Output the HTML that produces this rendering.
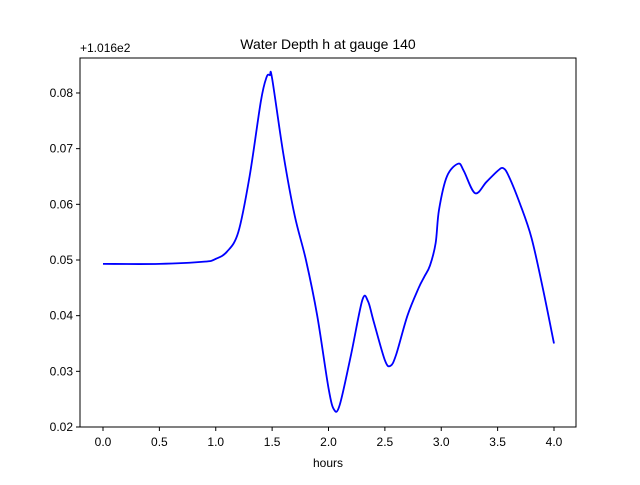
<!DOCTYPE html>
<html><head><meta charset="utf-8"><style>
body{margin:0;background:#fff;}
svg{font-family:"Liberation Sans","DejaVu Sans",sans-serif;}
</style></head><body>
<svg id="chart" width="640" height="480" viewBox="0 0 640 480">
<rect x="0" y="0" width="640" height="480" fill="#fff"/>
<text x="328" y="49" font-size="14" text-anchor="middle">Water Depth h at gauge 140</text>
<text x="80" y="52" font-size="12">+1.016e2</text>
<g id="xticks"></g>
<g id="yticks"></g>
<path id="line" fill="none" stroke="#0000ff" stroke-width="1.8"/>
<rect x="80" y="58" width="496" height="369" fill="none" stroke="#000" stroke-width="1"/>
<text x="328" y="467" font-size="12" text-anchor="middle">hours</text>
</svg>
<script>
const times=[0,0.5,0.9,1.0,1.1,1.2,1.3,1.4,1.45,1.48,1.5,1.6,1.7,1.8,1.9,2.0,2.05,2.1,2.2,2.3,2.35,2.4,2.5,2.55,2.6,2.7,2.8,2.85,2.9,2.95,2.98,3.05,3.15,3.2,3.3,3.4,3.5,3.55,3.6,3.7,3.8,3.9,4.0];
const depths=[0.0493,0.0493,0.0497,0.0502,0.0515,0.055,0.065,0.0785,0.0828,0.0832,0.0826,0.069,0.058,0.050,0.040,0.027,0.0231,0.024,0.033,0.0428,0.0426,0.039,0.032,0.031,0.033,0.040,0.045,0.047,0.049,0.053,0.059,0.065,0.0673,0.066,0.062,0.064,0.066,0.0665,0.065,0.060,0.054,0.045,0.035];
const xTicks=[0,0.5,1.0,1.5,2.0,2.5,3.0,3.5,4.0];
const yTicks=[0.02,0.03,0.04,0.05,0.06,0.07,0.08];
const NS="http://www.w3.org/2000/svg";
function xs(v){return 103+v*112.75;}
function ys(v){return 427-(v-0.02)*5567;}
const xg=document.getElementById('xticks'),yg=document.getElementById('yticks');
xTicks.forEach(t=>{
 const l=document.createElementNS(NS,'line');
 
 
 l.setAttribute('x1',xs(t));l.setAttribute('x2',xs(t));l.setAttribute('y1',427);l.setAttribute('y2',431);l.setAttribute('stroke','#000');
 xg.appendChild(l);
 const tx=document.createElementNS(NS,'text');
 
 
 tx.setAttribute('x',xs(t));tx.setAttribute('y',446);tx.setAttribute('font-size','12');tx.setAttribute('text-anchor','middle');
 tx.textContent=t.toFixed(1);xg.appendChild(tx);
});
yTicks.forEach(t=>{
 const l=document.createElementNS(NS,'line');
 
 
 l.setAttribute('x1',76);l.setAttribute('x2',80);l.setAttribute('y1',ys(t));l.setAttribute('y2',ys(t));l.setAttribute('stroke','#000');
 yg.appendChild(l);
 const tx=document.createElementNS(NS,'text');
 
 
 tx.setAttribute('x',73);tx.setAttribute('y',ys(t)+4);tx.setAttribute('font-size','12');tx.setAttribute('text-anchor','end');
 tx.textContent=t.toFixed(2);yg.appendChild(tx);
});
const pts=times.map((t,i)=>[xs(t),ys(depths[i])]);
let d='M'+pts[0][0]+','+pts[0][1];
for(let i=0;i<pts.length-1;i++){
 const p0=pts[i-1]||pts[i],p1=pts[i],p2=pts[i+1],p3=pts[i+2]||p2;
 const c1=[p1[0]+(p2[0]-p0[0])/6,p1[1]+(p2[1]-p0[1])/6];
 const c2=[p2[0]-(p3[0]-p1[0])/6,p2[1]-(p3[1]-p1[1])/6];
 d+=' C'+c1+' '+c2+' '+p2;
}
document.getElementById('line').setAttribute('d',d);
</script>
</body></html>
